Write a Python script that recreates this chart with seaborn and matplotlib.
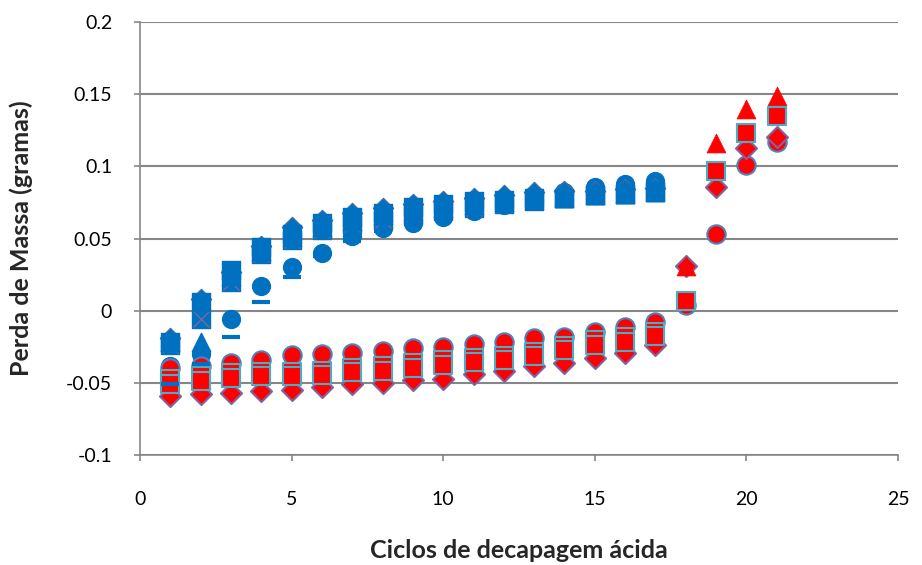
import numpy as np
import pandas as pd
import matplotlib
matplotlib.use("Agg")
import matplotlib.pyplot as plt
import seaborn as sns

# Cycles
cycles_a = list(range(1, 18))          # 1..17
cycles_b = list(range(1, 22))          # 1..21

# Blue group (17 cycles)
blue_circle = [-0.038, -0.030, -0.006, 0.017, 0.030, 0.040, 0.052, 0.057, 0.061,
               0.065, 0.069, 0.073, 0.077, 0.082, 0.086, 0.088, 0.090]
blue_diamond = [-0.019, 0.008, 0.027, 0.045, 0.058, 0.063, 0.068, 0.071, 0.074,
                0.076, 0.078, 0.080, 0.082, 0.083, 0.083, 0.084, 0.085]
blue_square = [-0.022, 0.006, 0.028, 0.044, 0.053, 0.061, 0.065, 0.068, 0.072,
               0.074, 0.076, 0.077, 0.078, 0.078, 0.080, 0.081, 0.082]
blue_triangle = [-0.022, -0.022, 0.024, 0.041, 0.051, 0.058, 0.062, 0.066, 0.069,
                 0.071, 0.073, 0.075, 0.077, 0.078, 0.080, 0.081, 0.082]
blue_cross = [-0.024, -0.006, 0.020, 0.039, 0.049, 0.056, 0.060, 0.063, 0.066,
              0.069, 0.071, 0.074, 0.076, 0.078, 0.080, 0.081, 0.083]
blue_dash = [-0.051, -0.037, -0.018, 0.006, 0.023, 0.038, 0.048, 0.055, 0.060,
             0.064, 0.068, 0.072, 0.075, 0.078, 0.080, 0.081, 0.083]

# Red group (21 cycles)
red_circle = [-0.040, -0.038, -0.036, -0.034, -0.031, -0.030, -0.029, -0.028, -0.026,
              -0.025, -0.023, -0.022, -0.019, -0.018, -0.015, -0.011, -0.008,
              0.004, 0.053, 0.101, 0.117]
red_diamond = [-0.059, -0.058, -0.057, -0.056, -0.055, -0.053, -0.051, -0.050, -0.048,
               -0.047, -0.044, -0.042, -0.038, -0.036, -0.033, -0.029, -0.024,
               0.031, 0.086, 0.113, 0.120]
red_triangle = [-0.049, -0.047, -0.045, -0.044, -0.044, -0.043, -0.041, -0.040, -0.038,
                -0.036, -0.034, -0.033, -0.030, -0.026, -0.022, -0.020, -0.016,
                0.031, 0.116, 0.140, 0.149]
red_square_1 = [-0.0475, -0.0455, -0.0435, -0.0425, -0.0425, -0.0415, -0.0395, -0.0385,
                -0.0365, -0.0345, -0.0325, -0.0315, -0.0285, -0.0245, -0.0205, -0.0185,
                -0.0145, 0.007, 0.097, 0.123, 0.135]
red_square_2 = [-0.0505, -0.0485, -0.0465, -0.0455, -0.0455, -0.0445, -0.0425, -0.0415,
                -0.0395, -0.0375, -0.0355, -0.0345, -0.0315, -0.0275, -0.0235, -0.0215,
                -0.0175, 0.007, 0.097, 0.123, 0.135]

y_ticks = [-0.1, -0.05, 0, 0.05, 0.1, 0.15, 0.2]
y_tick_labels = ["-0.1", "-0.05", "0", "0.05", "0.1", "0.15", "0.2"]
x_ticks = [0, 5, 10, 15, 20, 25]

BLUE = "#0070C0"
RED = "#FF0000"

sns.set_style("white")
plt.rcParams["font.family"] = ["Lato", "DejaVu Sans"]

fig = plt.figure(figsize=(9.22, 5.65), dpi=100)
ax = fig.add_axes([140 / 922, 1 - 455 / 565, 758 / 922, 433 / 565])


def draw(xs, ys, marker, face, edge, size, lw, z):
    sns.scatterplot(x=xs, y=ys, marker=marker, s=size, color=face,
                    edgecolor=edge, linewidth=lw, ax=ax, zorder=z,
                    legend=False)


# blue group
draw(cycles_a, blue_circle, "o", BLUE, BLUE, 165, 1.0, 3)
draw(cycles_a, blue_diamond, "D", BLUE, "#3B6EA8", 105, 1.0, 3.1)
draw(cycles_a, blue_cross, "s", BLUE, BLUE, 150, 1.0, 3.2)
sns.scatterplot(x=cycles_a, y=blue_cross, marker="x", s=130, color="#8064A2",
                linewidth=1.0, ax=ax, zorder=3.25, legend=False)
draw(cycles_a, blue_square, "s", BLUE, BLUE, 150, 1.0, 3.3)
draw(cycles_a, blue_triangle, "^", BLUE, BLUE, 175, 1.0, 3.4)

# red group
draw(cycles_b, red_circle, "o", RED, "#4F81BD", 175, 1.5, 4)
draw(cycles_b, red_diamond, "D", RED, "#8064A2", 115, 1.5, 4.1)
draw(cycles_b, red_triangle, "^", RED, RED, 185, 0.5, 4.2)
draw(cycles_b, red_square_1, "s", RED, "#4BACC6", 160, 1.5, 4.3)
draw(cycles_b, red_square_2, "s", RED, "#4BACC6", 160, 1.5, 4.4)

# blue dashes on top
sns.scatterplot(x=cycles_a, y=blue_dash, marker="_", s=180, color=BLUE,
                linewidth=3.0, ax=ax, zorder=5, legend=False)

ax.set_xlim(0, 25)
ax.set_ylim(-0.1, 0.2)
ax.set_xticks(x_ticks)
ax.set_yticks(y_ticks)
ax.set_yticklabels(y_tick_labels)
ax.yaxis.grid(True, color="#868686", linewidth=1.5)
ax.xaxis.grid(False)
ax.set_axisbelow(True)
for side in ("top", "right"):
    ax.spines[side].set_visible(False)
for side in ("left", "bottom"):
    ax.spines[side].set_color("#868686")
    ax.spines[side].set_linewidth(1.2)
ax.tick_params(axis="both", labelsize=14, colors="#868686", labelcolor="black",
               length=4, width=1.2, direction="out", left=True, bottom=True)
ax.tick_params(axis="y", pad=16)
ax.tick_params(axis="x", pad=22)

ax.set_xlabel("Ciclos de decapagem ácida", fontsize=18, fontweight="bold",
              labelpad=22)
ax.set_ylabel("Perda de Massa (gramas)", fontsize=18, fontweight="bold",
              labelpad=24)

fig.savefig("out.png", dpi=100, facecolor="white")
